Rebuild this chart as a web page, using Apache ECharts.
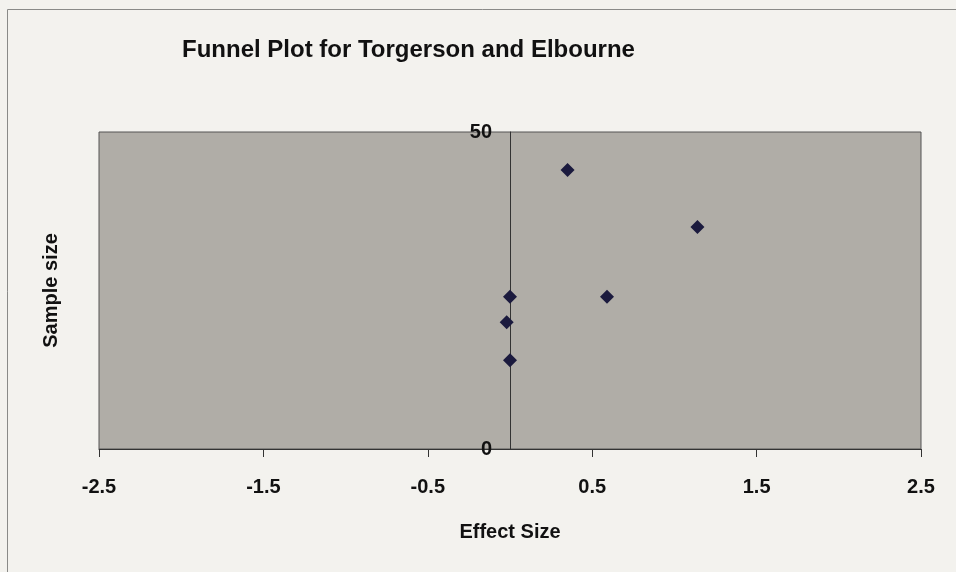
<!DOCTYPE html>
<html>
<head>
<meta charset="utf-8">
<script src="https://cdn.jsdelivr.net/npm/echarts@6/dist/echarts.min.js"></script>
<style>
html, body { margin: 0; padding: 0; background: #f3f2ee; }
#chart { width: 956px; height: 572px; }
</style>
</head>
<body>
<div id="chart"></div>
<script>
// effect size vs sample size
const effectSize = [0.35, 1.14, 0, 0.59, -0.02, 0]
const sampleSize = [44, 35, 24, 24, 20, 14]
const xTickLabels = ['-2.5', '-1.5', '-0.5', '0.5', '1.5', '2.5']

const points = effectSize.map((x, i) => [x, sampleSize[i]])

const chart = echarts.init(document.getElementById('chart'))
chart.setOption({
	backgroundColor: '#f3f2ee',
	textStyle: { fontFamily: 'Liberation Sans, Arial, sans-serif' },
	// chart area frame, runs off the right and bottom of the page
	graphic: [
		{
			type: 'rect',
			shape: { x: 7.5, y: 9.5, width: 1000, height: 1000 },
			style: { fill: 'none', stroke: '#8a8a88', lineWidth: 1 },
			silent: true,
		},
	],
	title: {
		text: 'Funnel Plot for Torgerson and Elbourne',
		left: 177,
		top: 33,
		textStyle: { fontSize: 24, fontWeight: 'bold', color: '#111' },
	},
	grid: {
		left: 99,
		right: 35,
		top: 132,
		bottom: 123,
		containLabel: false,
		outerBoundsMode: 'none',
		show: true,
		backgroundColor: '#b0ada7',
		borderColor: '#555',
		borderWidth: 1,
	},
	xAxis: {
		type: 'value',
		min: -2.5,
		max: 2.5,
		interval: 1,
		name: 'Effect Size',
		nameLocation: 'middle',
		nameGap: 73,
		nameTextStyle: { fontSize: 20, fontWeight: 'bold', color: '#111' },
		axisLine: { onZero: false, lineStyle: { color: '#333' } },
		axisTick: { show: true, length: 8, lineStyle: { color: '#333' } },
		axisLabel: {
			margin: 28,
			fontSize: 20,
			fontWeight: 'bold',
			color: '#111',
			formatter: (v) => xTickLabels[Math.round(v + 2.5)],
		},
		splitLine: { show: false },
	},
	yAxis: {
		type: 'value',
		min: 0,
		max: 50,
		interval: 50,
		// the axis crosses at effect size 0, mid plot
		offset: -411,
		name: 'Sample size',
		nameLocation: 'middle',
		nameGap: 449,
		nameTextStyle: { fontSize: 20, fontWeight: 'bold', color: '#111' },
		axisLine: { show: true, onZero: false, lineStyle: { color: '#333' } },
		axisTick: { show: false },
		axisLabel: { margin: 18, fontSize: 20, fontWeight: 'bold', color: '#111' },
		splitLine: { show: false },
	},
	series: [
		{
			type: 'scatter',
			data: points,
			symbol: 'diamond',
			symbolSize: 14,
			itemStyle: { color: '#1b1a3e', opacity: 1 },
		},
	],
})
</script>
</body>
</html>
